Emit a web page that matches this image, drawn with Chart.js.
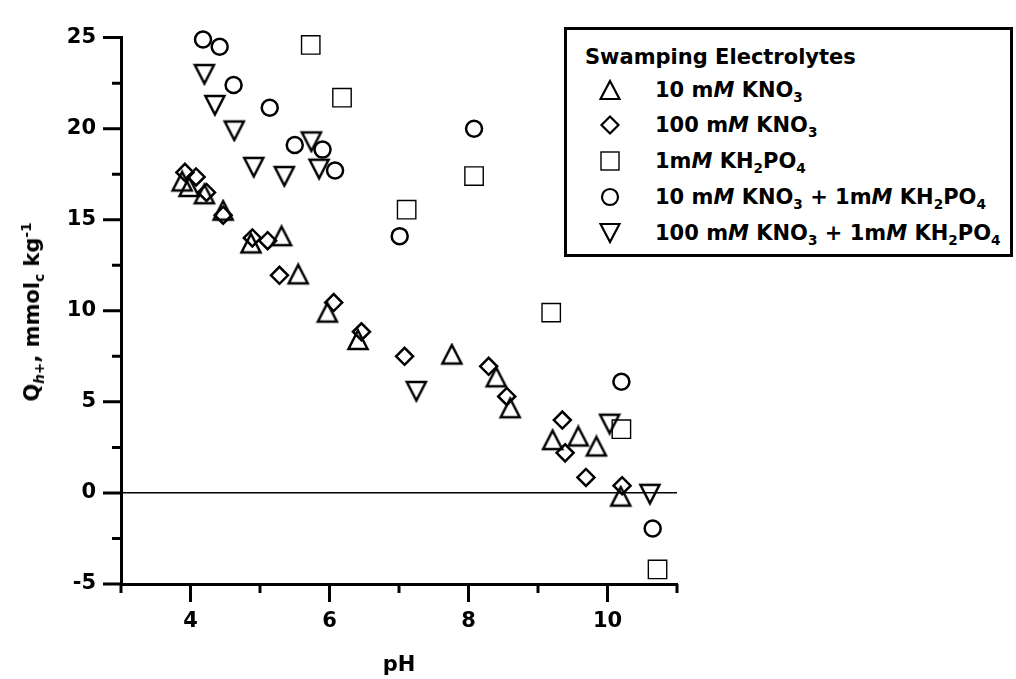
<!DOCTYPE html>
<html lang="en">
<head>
    <meta charset="UTF-8">
    <title>Surface charge vs pH</title>
    <script src="https://cdn.jsdelivr.net/npm/chart.js"></script>
    <style>
        body {
            margin: 0;
            padding: 0;
            background: #ffffff;
            font-family: 'DejaVu Sans', sans-serif;
        }

        .wrap {
            position: relative;
            width: 1016px;
            height: 679px;
        }

        canvas {
            position: absolute;
            left: 0;
            top: 0;
        }

        .ytitle {
            position: absolute;
            left: 32px;
            top: 312px;
            transform: translate(-50%, -50%) rotate(-90deg);
            white-space: nowrap;
            font-weight: bold;
            font-size: 21px;
            color: #000;
        }

        .legend {
            position: absolute;
            left: 564px;
            top: 27px;
            width: 449px;
            height: 230px;
            box-sizing: border-box;
            border: 3px solid #000;
            background: #fff;
            font-weight: bold;
            font-size: 21px;
            color: #000;
        }

        .legend .title {
            position: absolute;
            left: 18px;
            top: 12px;
            line-height: 30px;
            white-space: nowrap;
        }

        .legend .row {
            position: absolute;
            left: 0;
            height: 30px;
            line-height: 30px;
            white-space: nowrap;
        }

        .legend svg {
            position: absolute;
            left: 32px;
            top: 4px;
        }

        .legend .txt {
            position: absolute;
            left: 88px;
            top: 0;
        }

        sub, sup {
            font-size: 0.65em;
            line-height: 0;
        }
        sub { vertical-align: -0.35em; }
        sup { vertical-align: 0.6em; }
    </style>
</head>
<body>
<div class="wrap">
    <canvas id="chart" width="1016" height="679"></canvas>

    <!-- y axis title with sub/superscripts -->
    <div class="ytitle">Q<sub><i>h+</i></sub>, mmol<sub>c</sub> kg<sup>-1</sup></div>

    <!-- legend -->
    <div class="legend">
        <div class="title">Swamping Electrolytes</div>
        <div class="row" style="top:45px">
            <svg width="22" height="22"><polygon points="11,2 20.5,20 1.5,20" fill="none" stroke="#000" stroke-width="2.2"/></svg>
            <span class="txt">10 m<i>M</i> KNO<sub>3</sub></span>
        </div>
        <div class="row" style="top:80px">
            <svg width="22" height="22"><polygon points="11,2.5 19.5,11 11,19.5 2.5,11" fill="none" stroke="#000" stroke-width="2.2"/></svg>
            <span class="txt">100 m<i>M</i> KNO<sub>3</sub></span>
        </div>
        <div class="row" style="top:116px">
            <svg width="22" height="22"><rect x="2" y="2" width="18" height="18" fill="none" stroke="#000" stroke-width="1.4"/></svg>
            <span class="txt">1m<i>M</i> KH<sub>2</sub>PO<sub>4</sub></span>
        </div>
        <div class="row" style="top:152px">
            <svg width="22" height="22"><circle cx="11" cy="11" r="8" fill="none" stroke="#000" stroke-width="2.2"/></svg>
            <span class="txt">10 m<i>M</i> KNO<sub>3</sub> + 1m<i>M</i> KH<sub>2</sub>PO<sub>4</sub></span>
        </div>
        <div class="row" style="top:188px">
            <svg width="22" height="22"><polygon points="1.5,2 20.5,2 11,20" fill="none" stroke="#000" stroke-width="2.2"/></svg>
            <span class="txt">100 m<i>M</i> KNO<sub>3</sub> + 1m<i>M</i> KH<sub>2</sub>PO<sub>4</sub></span>
        </div>
    </div>
</div>

<script>
    // 10 mM KNO3 (open up-triangles)
    const kno3LowX = [3.88, 3.98, 4.20, 4.47, 4.87, 5.31, 5.55, 5.97, 6.41, 7.76, 8.40, 8.60, 9.21, 9.58, 9.84, 10.19];
    const kno3LowY = [17.1, 16.8, 16.4, 15.5, 13.7, 14.1, 12.0, 9.9, 8.4, 7.6, 6.35, 4.65, 2.9, 3.1, 2.55, -0.2];

    // 100 mM KNO3 (open diamonds)
    const kno3HighX = [3.92, 4.08, 4.23, 4.47, 4.89, 5.11, 5.28, 6.06, 6.46, 7.08, 8.29, 8.55, 9.35, 9.39, 9.69, 10.21];
    const kno3HighY = [17.6, 17.35, 16.5, 15.25, 14.0, 13.85, 11.95, 10.45, 8.85, 7.5, 6.95, 5.3, 4.0, 2.2, 0.85, 0.4];

    // 1 mM KH2PO4 (open squares)
    const phosX = [5.73, 6.18, 7.11, 8.08, 9.19, 10.20, 10.72];
    const phosY = [24.6, 21.7, 15.55, 17.4, 9.9, 3.5, -4.2];

    // 10 mM KNO3 + 1 mM KH2PO4 (open circles)
    const mixLowX = [4.18, 4.42, 4.62, 5.14, 5.50, 5.90, 6.08, 7.01, 8.08, 10.20, 10.65];
    const mixLowY = [24.9, 24.5, 22.4, 21.15, 19.1, 18.85, 17.7, 14.1, 20.0, 6.1, -1.95];

    // 100 mM KNO3 + 1 mM KH2PO4 (open down-triangles)
    const mixHighX = [4.20, 4.35, 4.63, 4.91, 5.35, 5.74, 5.85, 7.25, 10.03, 10.61];
    const mixHighY = [23.0, 21.3, 19.9, 17.9, 17.4, 19.3, 17.8, 5.6, 3.8, -0.05];

    // axis ticks
    const xMajorTicks = [4, 6, 8, 10];
    const xMinorTicks = [3, 5, 7, 9, 11];
    const yMajorTicks = [-5, 0, 5, 10, 15, 20, 25];
    const yMinorTicks = [-2.5, 2.5, 7.5, 12.5, 17.5, 22.5];

    function toPoints(xs, ys) {
        return xs.map((x, i) => ({ x: x, y: ys[i] }));
    }

    // the original triangles are about as tall as they are wide,
    // so build them as small canvas point styles
    function triangleSprite(down) {
        const c = document.createElement('canvas');
        c.width = 24;
        c.height = 24;
        const g = c.getContext('2d');
        g.strokeStyle = '#000';
        g.lineWidth = 2.5;
        g.beginPath();
        if (down) {
            g.moveTo(2.5, 3);
            g.lineTo(21.5, 3);
            g.lineTo(12, 21.5);
        } else {
            g.moveTo(12, 2.5);
            g.lineTo(21.5, 21);
            g.lineTo(2.5, 21);
        }
        g.closePath();
        g.stroke();
        return c;
    }

    const tickFont = { family: 'DejaVu Sans', size: 21, weight: 'bold' };

    // draws the outward major / minor tick marks like the original plot
    const axisTicks = {
        id: 'axisTicks',
        afterDraw(chart) {
            const { ctx, chartArea, scales } = chart;
            ctx.save();
            ctx.strokeStyle = '#000';
            ctx.lineWidth = 3;
            ctx.beginPath();
            yMajorTicks.forEach(v => {
                const py = scales.y.getPixelForValue(v);
                ctx.moveTo(chartArea.left - 18, py);
                ctx.lineTo(chartArea.left, py);
            });
            yMinorTicks.forEach(v => {
                const py = scales.y.getPixelForValue(v);
                ctx.moveTo(chartArea.left - 9, py);
                ctx.lineTo(chartArea.left, py);
            });
            xMajorTicks.forEach(v => {
                const px = scales.x.getPixelForValue(v);
                ctx.moveTo(px, chartArea.bottom);
                ctx.lineTo(px, chartArea.bottom + 18);
            });
            xMinorTicks.forEach(v => {
                const px = scales.x.getPixelForValue(v);
                ctx.moveTo(px, chartArea.bottom);
                ctx.lineTo(px, chartArea.bottom + 9);
            });
            ctx.stroke();
            ctx.restore();
        }
    };

    const common = {
        showLine: false,
        clip: false,
        borderColor: '#000',
        backgroundColor: 'rgba(0,0,0,0)',
        pointBorderColor: '#000',
        pointBackgroundColor: 'rgba(0,0,0,0)'
    };

    new Chart(document.getElementById('chart'), {
        type: 'scatter',
        data: {
            datasets: [
                Object.assign({ label: '10 mM KNO3', data: toPoints(kno3LowX, kno3LowY),
                    pointStyle: triangleSprite(false), pointRadius: 12 }, common),
                Object.assign({ label: '100 mM KNO3', data: toPoints(kno3HighX, kno3HighY),
                    pointStyle: 'rectRot', pointRadius: 8.5, pointBorderWidth: 2.5 }, common),
                Object.assign({ label: '1mM KH2PO4', data: toPoints(phosX, phosY),
                    pointStyle: 'rect', pointRadius: 13, pointBorderWidth: 1.4 }, common),
                Object.assign({ label: '10 mM KNO3 + 1mM KH2PO4', data: toPoints(mixLowX, mixLowY),
                    pointStyle: 'circle', pointRadius: 8, pointBorderWidth: 2.5 }, common),
                Object.assign({ label: '100 mM KNO3 + 1mM KH2PO4', data: toPoints(mixHighX, mixHighY),
                    pointStyle: triangleSprite(true), pointRadius: 12 }, common)
            ]
        },
        options: {
            responsive: false,
            animation: false,
            events: [],
            layout: { padding: { top: 25, right: 339, bottom: 0, left: 0 } },
            plugins: {
                legend: { display: false },
                tooltip: { enabled: false }
            },
            scales: {
                x: {
                    type: 'linear',
                    min: 3,
                    max: 11,
                    afterFit(scale) { scale.height = 95; },
                    border: { display: true, color: '#000', width: 3 },
                    grid: { drawOnChartArea: false, drawTicks: false },
                    ticks: {
                        stepSize: 1,
                        autoSkip: false,
                        maxRotation: 0,
                        padding: 25,
                        color: '#000',
                        font: tickFont,
                        callback: v => (v % 2 === 0 ? v : '')
                    },
                    title: {
                        display: true,
                        text: 'pH',
                        color: '#000',
                        font: { family: 'DejaVu Sans', size: 21, weight: 'bold' },
                        padding: { top: 0, bottom: 1 }
                    }
                },
                y: {
                    type: 'linear',
                    min: -5,
                    max: 25,
                    afterFit(scale) { scale.width = 121; },
                    border: { display: true, color: '#000', width: 3 },
                    grid: {
                        drawTicks: false,
                        lineWidth: 1.5,
                        color: c => (c.tick && c.tick.value === 0 ? '#000' : 'rgba(0,0,0,0)')
                    },
                    ticks: {
                        stepSize: 5,
                        padding: 25,
                        color: '#000',
                        font: tickFont
                    }
                }
            }
        },
        plugins: [axisTicks]
    });
</script>
</body>
</html>
